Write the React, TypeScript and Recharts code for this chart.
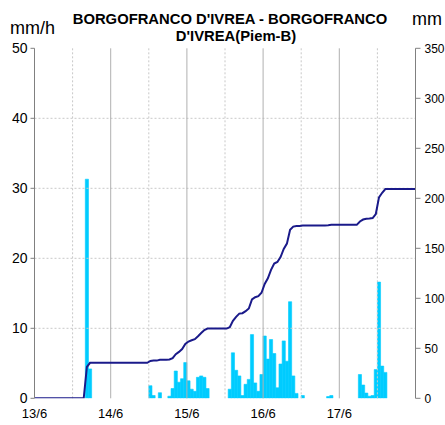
import React from 'react';
import { ComposedChart, Bar, Line, XAxis, YAxis, ReferenceLine } from 'recharts';

// ---- data ----
const TITLE_LINE_1 = "BORGOFRANCO D'IVREA - BORGOFRANCO";
const TITLE_LINE_2 = "D'IVREA(Piem-B)";
const LEFT_UNIT = 'mm/h';
const RIGHT_UNIT = 'mm';

const dayLabels: string[] = ['13/6', '14/6', '15/6', '16/6', '17/6'];
const hoursPerDay = 24;

// hourly rainfall intensity (mm/h), 24 values per day, 13/6 00h .. 17/6 23h
const hourlyRain: number[] = [
  // 13/6
  0, 0, 0, 0, 0, 0, 0, 0, 0, 0, 0, 0, 0, 0, 0, 0, 31.3, 4.2, 0, 0, 0, 0, 0, 0,
  // 14/6
  0, 0, 0, 0, 0, 0, 0, 0, 0, 0, 0, 0, 1.8, 0.4, 0, 0.8, 0, 0, 0.3, 1.4, 3.9, 2.3, 2.8, 5.1,
  // 15/6
  2.5, 1.3, 1.0, 3.0, 3.2, 3.0, 1.4, 0, 0, 0, 0, 0, 0, 1.3, 6.5, 4.0, 3.2, 0.4, 2.0, 2.7, 9.1, 2.2, 1.0, 3.4,
  // 16/6
  8.9, 5.6, 8.4, 6.4, 1.5, 4.9, 8.2, 5.3, 13.8, 3.2, 0.7, 0, 0.4, 0, 0, 0, 0, 0, 0, 0, 0.25, 0.4, 0, 0,
  // 17/6
  0, 0, 0, 0, 0, 0, 3.4, 1.9, 0.75, 0.3, 0.4, 4.1, 16.6, 4.6, 3.7, 0, 0, 0, 0, 0, 0, 0, 0, 0,
];

const leftTicks: number[] = [0, 10, 20, 30, 40, 50];
const rightTicks: number[] = [0, 50, 100, 150, 200, 250, 300, 350];

// ---- derived tables ----
const totalHours = dayLabels.length * hoursPerDay;
const barData = hourlyRain.map((rain, hour) => ({ hour, rain }));

// cumulative rainfall (mm), plotted at the middle of each hour
const cumData: { t: number; cum: number }[] = [{ t: 0, cum: 0 }];
{
  let s = 0;
  hourlyRain.forEach((v, h) => {
    s += v;
    cumData.push({ t: h + 0.5, cum: Math.round(s * 100) / 100 });
  });
  cumData.push({ t: totalHours, cum: Math.round(s * 100) / 100 });
}

const dayTicks = Array.from({ length: dayLabels.length + 1 }, (_, i) => i * hoursPerDay);
const noonLines = dayLabels.map((_, i) => i * hoursPerDay + hoursPerDay / 2);
const dayLines = dayTicks.slice(1, -1);
const hGrid = leftTicks.slice(1, -1);

// ---- layout ----
const W = 445;
const H = 425;
const PLOT_LEFT = 34.5;
const PLOT_RIGHT = 415.5;
const PLOT_TOP = 48.3;
const PLOT_BOTTOM = 398.3;
const X_LABEL_BASELINE = PLOT_BOTTOM + 20;
const BAR_WIDTH = (PLOT_RIGHT - PLOT_LEFT) / totalHours - 0.004;

const AXIS_COLOR = '#808080';
const BAR_COLOR = '#00ccff';
const LINE_COLOR = '#1a1a8a';

const DayTick = (props: any) => {
  const { x, payload } = props;
  const label = dayLabels[Math.round(payload.value / hoursPerDay)] ?? '';
  if (!label) return <g />;
  return (
    <text x={x} y={X_LABEL_BASELINE} textAnchor="middle" fontSize={13} fill="#000">
      {label}
    </text>
  );
};

export default function App() {
  return (
    <div
      style={{
        position: 'absolute',
        left: 0,
        top: 0,
        width: W,
        height: H,
        background: '#fff',
        fontFamily: '"Liberation Sans", Arial, sans-serif',
      }}
    >
      <ComposedChart
        width={W}
        height={H}
        data={barData}
        margin={{ top: PLOT_TOP, right: 0, bottom: 0, left: 0 }}
        barCategoryGap={0}
        barGap={0}
      >
        <XAxis xAxisId="hours" dataKey="hour" type="category" hide />
        <XAxis
          xAxisId="time"
          dataKey="t"
          type="number"
          domain={[0, totalHours]}
          allowDataOverflow
          ticks={dayTicks}
          interval={0}
          height={H - PLOT_BOTTOM}
          stroke={AXIS_COLOR}
          tickSize={5}
          tickMargin={1}
          tick={DayTick}
        />
        <YAxis
          yAxisId="rate"
          orientation="left"
          width={PLOT_LEFT}
          domain={[0, 50]}
          ticks={leftTicks}
          interval={0}
          allowDataOverflow
          stroke={AXIS_COLOR}
          tickSize={4}
          tickMargin={3}
          tick={{ fill: '#000', fontSize: 14 }}
        />
        <YAxis
          yAxisId="cum"
          orientation="right"
          width={W - PLOT_RIGHT}
          domain={[0, 350]}
          ticks={rightTicks}
          interval={0}
          allowDataOverflow
          stroke={AXIS_COLOR}
          tickSize={5}
          tickMargin={4}
          tick={{ fill: '#000', fontSize: 12 }}
        />
        {hGrid.map((v) => (
          <ReferenceLine key={'h' + v} xAxisId="time" yAxisId="rate" y={v} stroke="#c8c8c8" strokeDasharray="2 2" />
        ))}
        {noonLines.map((v) => (
          <ReferenceLine key={'n' + v} xAxisId="time" yAxisId="rate" x={v} stroke="#c8c8c8" strokeDasharray="2 2" />
        ))}
        {dayLines.map((v) => (
          <ReferenceLine key={'d' + v} xAxisId="time" yAxisId="rate" x={v} stroke="#b0b0b0" />
        ))}
        <Bar
          xAxisId="hours"
          yAxisId="rate"
          dataKey="rain"
          fill={BAR_COLOR}
          stroke={BAR_COLOR}
          strokeWidth={0.6}
          barSize={BAR_WIDTH}
          isAnimationActive={false}
        />
        <Line
          xAxisId="time"
          yAxisId="cum"
          data={cumData}
          dataKey="cum"
          type="linear"
          stroke={LINE_COLOR}
          strokeWidth={2}
          dot={false}
          isAnimationActive={false}
        />
      </ComposedChart>
      <svg
        width={W}
        height={H}
        style={{ position: 'absolute', left: 0, top: 0, pointerEvents: 'none' }}
      >
        <text x={230} y={24} textAnchor="middle" fontWeight="bold" fontSize={14.8} fill="#000">
          {TITLE_LINE_1}
        </text>
        <text x={236} y={40.5} textAnchor="middle" fontWeight="bold" fontSize={14.8} fill="#000">
          {TITLE_LINE_2}
        </text>
        <text x={10} y={34} fontSize={18} fill="#000">
          {LEFT_UNIT}
        </text>
        <text x={412} y={25} fontSize={18} fill="#000">
          {RIGHT_UNIT}
        </text>
      </svg>
    </div>
  );
}
